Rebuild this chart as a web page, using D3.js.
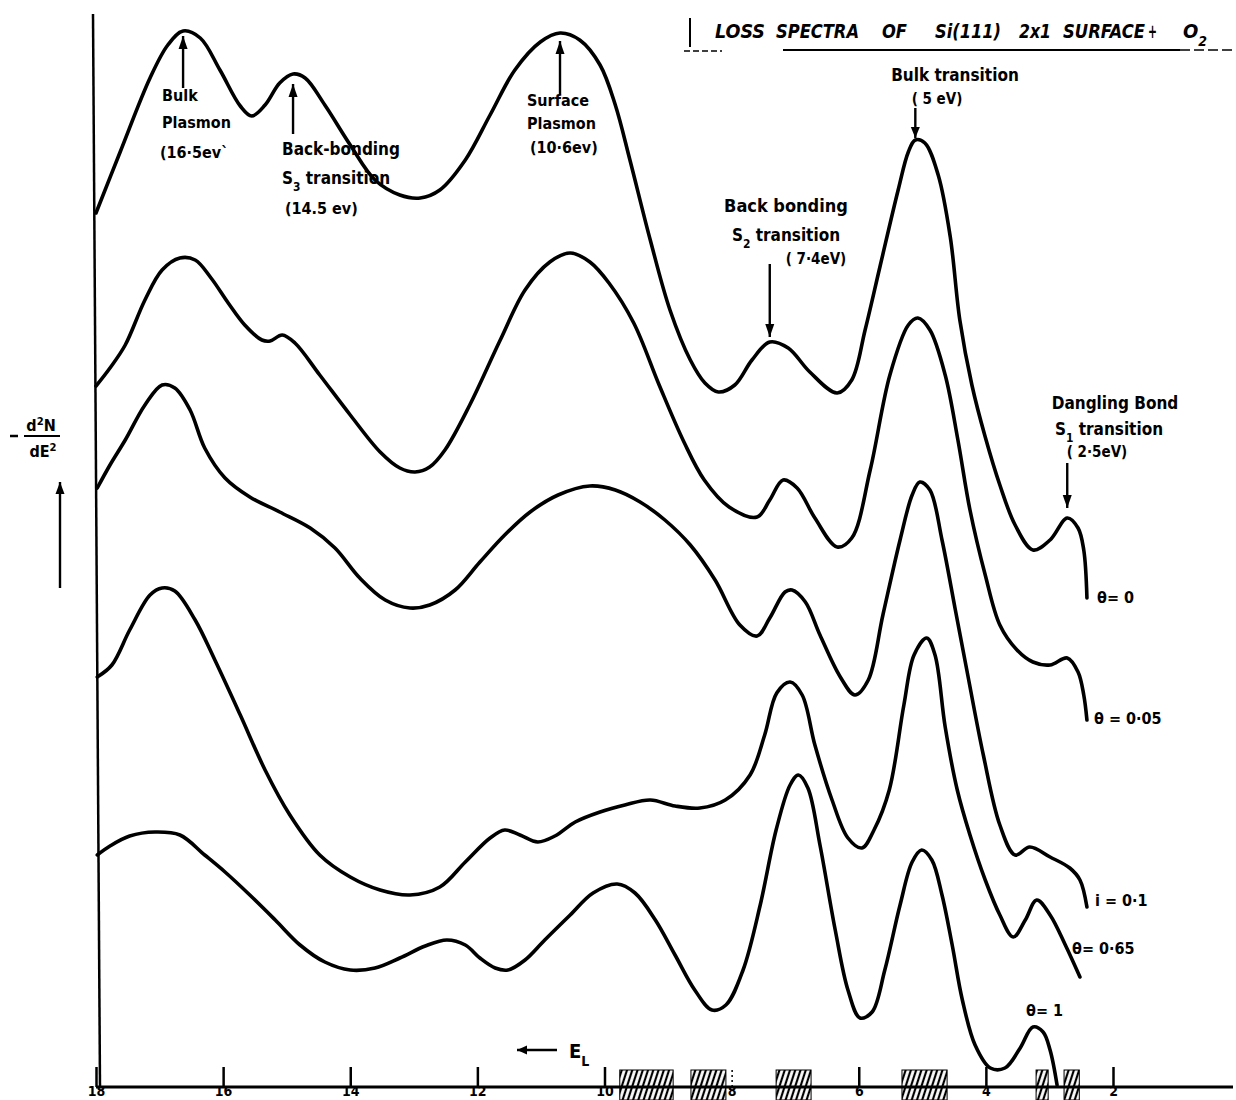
<!DOCTYPE html>
<html>
<head>
<meta charset="utf-8">
<script src="https://cdn.jsdelivr.net/npm/d3@7"></script>
<style>
  body { margin: 0; background: #fff; }
  svg { display: block; }
  text { font-family: "DejaVu Sans Condensed", "DejaVu Sans", sans-serif; font-weight: bold; fill: #000; }
</style>
</head>
<body>
<svg id="chart" width="1236" height="1100"></svg>
<script>
// ----- data: [energy loss (eV), -d2N/dE2 (arb. units)]
const theta0 = [[18.00, 87.4], [17.62, 93.5], [17.15, 100.9], [16.87, 104.2], [16.63, 105.6], [16.36, 104.9], [16.05, 101.7], [15.73, 98.1], [15.55, 97.1], [15.34, 98.2], [15.11, 100.4], [14.90, 101.3], [14.71, 100.9], [14.40, 98.2], [14.00, 94.2], [13.61, 90.7], [13.22, 89.2], [12.90, 88.9], [12.59, 89.7], [12.19, 92.7], [11.80, 97.2], [11.41, 101.7], [11.01, 104.5], [10.70, 105.4], [10.39, 104.7], [10.07, 102.2], [9.83, 98.2], [9.60, 92.7], [9.28, 84.7], [8.97, 77.7], [8.65, 72.7], [8.42, 70.4], [8.21, 69.5], [7.95, 70.2], [7.68, 72.7], [7.40, 74.5], [7.11, 73.9], [6.77, 71.5], [6.34, 69.4], [6.11, 70.7], [5.90, 75.7], [5.66, 82.2], [5.38, 89.7], [5.22, 93.5], [5.11, 94.7], [4.96, 94.4], [4.75, 91.2], [4.56, 85.0], [4.41, 76.7], [4.22, 70.2], [4.01, 65.0], [3.78, 60.2], [3.54, 56.2], [3.26, 53.7], [2.99, 54.7], [2.72, 56.9], [2.55, 55.9], [2.46, 53.7], [2.41, 48.9]];

const theta005 = [[18.00, 70.1], [17.78, 71.9], [17.54, 74.2], [17.23, 78.7], [16.96, 81.7], [16.68, 82.9], [16.44, 82.7], [16.19, 80.9], [15.92, 78.4], [15.66, 76.2], [15.39, 74.7], [15.26, 74.6], [15.07, 75.2], [14.87, 74.4], [14.48, 71.2], [14.00, 67.2], [13.53, 63.5], [13.22, 61.9], [12.98, 61.5], [12.75, 62.0], [12.51, 63.7], [12.12, 68.2], [11.64, 74.7], [11.25, 79.7], [10.86, 82.5], [10.54, 83.4], [10.23, 82.5], [9.93, 80.4], [9.54, 76.4], [9.14, 70.2], [8.75, 64.5], [8.43, 60.7], [8.04, 58.0], [7.60, 57.0], [7.40, 58.7], [7.19, 60.7], [6.97, 59.9], [6.69, 56.9], [6.34, 54.0], [6.11, 54.9], [5.82, 61.7], [5.51, 71.2], [5.22, 76.2], [5.07, 76.9], [4.88, 75.7], [4.64, 71.2], [4.44, 64.7], [4.25, 57.7], [4.01, 51.2], [3.78, 46.2], [3.51, 43.7], [3.26, 42.5], [2.99, 42.2], [2.72, 42.9], [2.55, 41.5], [2.46, 39.2], [2.41, 36.7]];

const theta01 = [[17.98, 59.9], [17.78, 62.2], [17.54, 64.7], [17.23, 68.2], [16.96, 70.2], [16.76, 69.9], [16.52, 67.7], [16.29, 63.9], [15.97, 60.9], [15.58, 59.0], [15.11, 57.5], [14.63, 55.9], [14.24, 53.9], [13.85, 50.9], [13.45, 48.7], [13.06, 47.9], [12.75, 48.2], [12.35, 49.7], [11.96, 52.5], [11.57, 55.2], [11.17, 57.5], [10.73, 59.2], [10.23, 60.1], [9.83, 59.7], [9.44, 58.5], [9.05, 56.7], [8.65, 54.2], [8.26, 50.7], [7.87, 46.2], [7.60, 45.1], [7.40, 46.9], [7.16, 49.5], [7.05, 49.7], [6.84, 48.5], [6.61, 45.2], [6.29, 41.0], [6.06, 39.2], [5.85, 40.7], [5.62, 47.2], [5.35, 54.7], [5.16, 59.2], [5.04, 60.5], [4.88, 59.7], [4.69, 54.7], [4.48, 47.7], [4.30, 41.7], [4.04, 33.2], [3.78, 26.2], [3.54, 23.2], [3.31, 24.0], [2.99, 23.0], [2.68, 21.9], [2.52, 20.7], [2.41, 18.0]];

const theta065 = [[17.98, 41.0], [17.75, 42.2], [17.47, 45.7], [17.15, 49.2], [16.96, 49.9], [16.76, 49.6], [16.44, 46.7], [16.13, 42.7], [15.73, 37.2], [15.34, 31.7], [14.95, 27.2], [14.48, 23.2], [14.00, 21.0], [13.53, 19.7], [13.06, 19.2], [12.59, 20.0], [12.19, 22.5], [11.80, 24.9], [11.57, 25.7], [11.33, 25.2], [11.05, 24.5], [10.78, 25.1], [10.46, 26.5], [10.07, 27.5], [9.68, 28.2], [9.28, 28.7], [8.89, 28.1], [8.50, 27.9], [8.10, 28.7], [7.71, 31.2], [7.48, 35.2], [7.29, 39.4], [7.08, 40.5], [6.89, 39.2], [6.69, 34.2], [6.42, 28.7], [6.17, 24.9], [5.95, 23.9], [5.76, 25.7], [5.52, 29.7], [5.29, 38.2], [5.13, 43.2], [4.93, 44.9], [4.80, 43.2], [4.64, 36.0], [4.45, 29.7], [4.25, 25.2], [4.01, 20.7], [3.78, 17.2], [3.57, 15.0], [3.38, 16.7], [3.20, 18.7], [2.99, 17.2], [2.75, 14.2], [2.52, 11.0]];

const theta1 = [[17.98, 23.2], [17.78, 24.1], [17.47, 25.1], [17.07, 25.5], [16.68, 25.2], [16.29, 23.2], [15.97, 21.5], [15.58, 19.2], [15.18, 16.7], [14.79, 14.2], [14.40, 12.5], [14.00, 11.7], [13.61, 11.9], [13.22, 12.9], [12.82, 14.1], [12.48, 14.7], [12.19, 14.2], [11.96, 12.9], [11.72, 11.9], [11.52, 11.7], [11.25, 12.7], [10.94, 14.7], [10.54, 17.2], [10.18, 19.4], [9.80, 20.3], [9.52, 19.4], [9.20, 16.7], [8.89, 13.2], [8.58, 9.7], [8.31, 7.7], [8.09, 8.2], [7.82, 11.7], [7.55, 18.2], [7.30, 25.7], [7.08, 30.2], [6.95, 31.2], [6.80, 29.9], [6.61, 24.2], [6.37, 15.7], [6.17, 9.7], [5.98, 6.9], [5.79, 7.5], [5.59, 11.7], [5.35, 18.2], [5.16, 22.5], [5.01, 23.7], [4.85, 22.7], [4.69, 19.2], [4.53, 14.2], [4.37, 8.7], [4.17, 4.2], [3.93, 1.9], [3.70, 1.9], [3.46, 3.9], [3.26, 6.0], [3.10, 5.5], [2.99, 3.7], [2.88, 0.2]];

const tickValues = [18, 16, 14, 12, 10, 8, 6, 4, 2];
// shaded energy bands drawn on the axis
const hatchBands = [[9.76, 8.92], [8.64, 8.09], [7.30, 6.75], [5.32, 4.61], [3.21, 3.02], [2.77, 2.53]];
const curveLabels = ['\u03b8= 0', '\u03b8 = 0\u00b705', 'i = 0\u00b71', '\u03b8= 0\u00b765', '\u03b8= 1'];

// ----- scales
const svg = d3.select('#chart');
const x = d3.scaleLinear().domain([18, 2]).range([96, 1113]);
const y = d3.scaleLinear().domain([0, 107.2]).range([1087, 15]);
const baseY = y(0);

const line = d3.line()
    .x(d => x(d[0]))
    .y(d => y(d[1]))
    .curve(d3.curveCatmullRom.alpha(0.5));

// hatch pattern
const defs = svg.append('defs');
defs.append('pattern')
    .attr('id', 'hatch')
    .attr('width', 5).attr('height', 10)
    .attr('patternUnits', 'userSpaceOnUse')
    .attr('patternTransform', 'rotate(18)')
    .append('line')
    .attr('x1', 2).attr('y1', 0).attr('x2', 2).attr('y2', 10)
    .attr('stroke', '#000').attr('stroke-width', 2.2);

// ----- curves
[theta0, theta005, theta01, theta065, theta1].forEach(series => {
    svg.append('path')
        .datum(series)
        .attr('d', line)
        .attr('fill', 'none')
        .attr('stroke', '#000')
        .attr('stroke-width', 3.6)
        .attr('stroke-linejoin', 'round')
        .attr('stroke-linecap', 'round');
});

// ----- axes
svg.append('line') // y axis, slightly slanted like the drawing
    .attr('x1', 93).attr('y1', 14).attr('x2', 100).attr('y2', baseY)
    .attr('stroke', '#000').attr('stroke-width', 2.5);

svg.append('line')
    .attr('x1', x(18)).attr('y1', baseY).attr('x2', 1233).attr('y2', baseY)
    .attr('stroke', '#000').attr('stroke-width', 3);

svg.selectAll('rect.band')
    .data(hatchBands)
    .enter()
    .append('rect')
    .attr('class', 'band')
    .attr('x', d => x(d[0]))
    .attr('width', d => x(d[1]) - x(d[0]))
    .attr('y', baseY - 17)
    .attr('height', 30)
    .attr('fill', 'url(#hatch)')
    .attr('stroke', '#000')
    .attr('stroke-width', 1);

const xAxis = d3.axisBottom(x)
    .tickValues(tickValues)
    .tickSize(-20)
    .tickPadding(0)
    .tickFormat(d3.format('d'));

const gx = svg.append('g')
    .attr('transform', `translate(0,${baseY})`)
    .call(xAxis);
gx.select('.domain').remove();
gx.selectAll('.tick line').attr('stroke', '#000').attr('stroke-width', 2.5);
gx.selectAll('.tick line').filter(d => d === 8).attr('stroke-dasharray', '2,3').attr('stroke-width', 1.5);
gx.selectAll('.tick text')
    .attr('font-family', '"DejaVu Sans Condensed", sans-serif')
    .attr('font-weight', 'bold')
    .attr('font-size', 14)
    .attr('dy', '9.4px')
    .attr('fill', '#000');

// ----- arrows
function arrow(x1, y1, x2, y2, head) {
    svg.append('line')
        .attr('x1', x1).attr('y1', y1).attr('x2', x2).attr('y2', y2)
        .attr('stroke', '#000').attr('stroke-width', 2.4);
    const ang = Math.atan2(y2 - y1, x2 - x1);
    const L = head || 13, W = 4.5;
    const bx = x2 - L * Math.cos(ang), by = y2 - L * Math.sin(ang);
    const px = -Math.sin(ang) * W, py = Math.cos(ang) * W;
    svg.append('path')
        .attr('d', `M${x2},${y2}L${bx + px},${by + py}L${bx - px},${by - py}Z`)
        .attr('fill', '#000');
}

function label(tx, ty, parts, size, anchor) {
    const t = svg.append('text')
        .attr('x', tx).attr('y', ty)
        .attr('font-size', size || 16)
        .attr('text-anchor', anchor || 'start');
    [].concat(parts).forEach(p => {
        if (typeof p === 'string') t.append('tspan').text(p);
        else t.append('tspan')
            .attr('baseline-shift', p.sup ? 'super' : 'sub')
            .attr('font-size', (size || 16) * 0.7)
            .text(p.sup || p.sub);
    });
    return t;
}

// Bulk plasmon
arrow(x(16.63), 88, x(16.63), 36);
label(162, 101, 'Bulk');
label(162, 128, 'Plasmon');
label(160, 158, '(16\u00b75ev`');

// Back-bonding S3
arrow(x(14.90), 134, x(14.90), 84);
label(282, 155, 'Back-bonding', 17);
label(282, 184, ['S', {sub: '3'}, ' transition'], 17);
label(285, 214, '(14.5 ev)');

// Surface plasmon
arrow(x(10.70), 94, x(10.70), 41);
label(527, 106, 'Surface');
label(527, 129, 'Plasmon');
label(530, 153, '(10\u00b76ev)');

// Bulk transition
label(955, 81, 'Bulk transition', 17, 'middle');
label(937, 104, '( 5 eV)', 15, 'middle');
arrow(x(5.11), 108, x(5.11), 138, 11);

// Back bonding S2
label(786, 212, 'Back bonding', 18, 'middle');
label(786, 241, ['S', {sub: '2'}, ' transition'], 17, 'middle');
label(816, 264, '( 7\u00b74eV)', 15, 'middle');
arrow(x(7.40), 264, x(7.40), 337);

// Dangling bond S1
label(1115, 409, 'Dangling Bond', 17, 'middle');
label(1109, 435, ['S', {sub: '1'}, ' transition'], 17, 'middle');
label(1097, 457, '( 2\u00b75eV)', 15, 'middle');
arrow(x(2.72), 463, x(2.72), 508);

// coverage labels at the curve ends
const labelPos = [[1097, 603], [1094, 724], [1095, 906], [1072, 954], [1026, 1016]];
curveLabels.forEach((txt, i) => label(labelPos[i][0], labelPos[i][1], txt, 16));

// ----- y label
svg.append('line').attr('x1', 10).attr('x2', 18).attr('y1', 436).attr('y2', 436).attr('stroke', '#000').attr('stroke-width', 2.5);
label(41, 431, ['d', {sup: '2'}, 'N'], 16, 'middle');
svg.append('line').attr('x1', 24).attr('x2', 60).attr('y1', 436).attr('y2', 436).attr('stroke', '#000').attr('stroke-width', 2);
label(43, 457, ['dE', {sup: '2'}], 16, 'middle');
arrow(60, 588, 60, 482, 12);

// ----- E_L arrow on the axis
arrow(557, 1050, 517, 1050, 10);
label(569, 1058, ['E', {sub: 'L'}], 20);

// ----- title
const titleWords = [['LOSS', 715, 50], ['SPECTRA', 776, 83], ['OF', 882, 25], ['Si(111)', 935, 66], ['2x1', 1019, 32], ['SURFACE', 1063, 82], ['+', 1148, 9]];
titleWords.forEach(w => {
    svg.append('text')
        .attr('x', w[1]).attr('y', 38)
        .attr('font-size', 19)
        .attr('font-style', 'italic')
        .attr('textLength', w[2])
        .attr('lengthAdjust', 'spacingAndGlyphs')
        .text(w[0]);
});
label(1183, 38, ['O', {sub: '2'}], 20).attr('font-style', 'italic');
svg.append('line').attr('x1', 690).attr('x2', 690).attr('y1', 18).attr('y2', 47).attr('stroke', '#000').attr('stroke-width', 2);
svg.append('line').attr('x1', 684).attr('x2', 722).attr('y1', 51).attr('y2', 51).attr('stroke', '#000').attr('stroke-width', 1.5).attr('stroke-dasharray', '6,3');
svg.append('line').attr('x1', 783).attr('x2', 1180).attr('y1', 50).attr('y2', 50).attr('stroke', '#000').attr('stroke-width', 1.8);
svg.append('line').attr('x1', 1180).attr('x2', 1236).attr('y1', 50).attr('y2', 50).attr('stroke', '#000').attr('stroke-width', 1.5).attr('stroke-dasharray', '10,4');
</script>
</body>
</html>
